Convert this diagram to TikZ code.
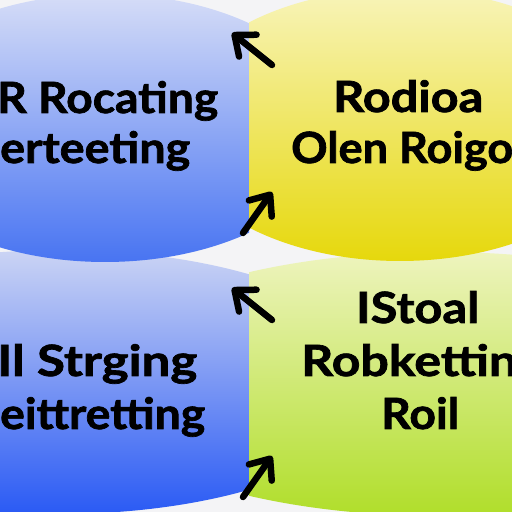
\documentclass[tikz,border=0pt]{standalone}
\usepackage{fontspec}
\setmainfont{Lato}[BoldFeatures={FakeBold=1.6}]
\usepackage{graphicx}
\usetikzlibrary{arrows.meta}
\definecolor{tlTop}{HTML}{D6DDF7}
\definecolor{tlBot}{HTML}{4874F2}
\definecolor{trTop}{HTML}{F8F4BA}
\definecolor{trBot}{HTML}{E6D80C}
\definecolor{blTop}{HTML}{CBD4F4}
\definecolor{blBot}{HTML}{2A5AF4}
\definecolor{brTop}{HTML}{EEF4BE}
\definecolor{brBot}{HTML}{B0DE2A}
\definecolor{bgc}{HTML}{F4F4F6}
\tikzset{
  lbl/.style={anchor=base west, inner sep=0pt, font=\fontsize{43}{43}\selectfont\bfseries},
  arr/.style={line width=6.5pt, line cap=round, -{Straight Barb[length=17pt,width=28pt,round]}},
}
\newcommand{\fw}[2]{\resizebox{#1pt}{\height}{#2}}
\begin{document}
\begin{tikzpicture}[x=1pt,y=1pt]
\useasboundingbox (0,0) rectangle (512,512);
\clip (0,0) rectangle (512,512);
\fill[bgc] (0,0) rectangle (512,512);
% bottom blobs
\begin{scope}
  \clip (0,0) rectangle (249,512);
  \shade[top color=blTop, bottom color=blBot] (60,130) ellipse (327 and 132);
\end{scope}
\begin{scope}
  \clip (249,0) rectangle (512,512);
  \shade[top color=brTop, bottom color=brBot] (440,128) ellipse (359 and 132);
\end{scope}
% top blobs
\begin{scope}
  \clip (0,0) rectangle (249,512);
  \shade[top color=tlTop, bottom color=tlBot] (105,384) ellipse (231 and 134);
\end{scope}
\begin{scope}
  \clip (249,0) rectangle (512,512);
  \shade[top color=trTop, bottom color=trBot] (400,387) ellipse (230 and 136);
\end{scope}
% texts
\node[lbl] (tl1) at (-3,399) {\fw{221}{R Rocating}};
\node[lbl] (tl2) at (0,349) {\fw{190}{erteeting}};
\node[lbl] (tr1) at (333,400) {\fw{150}{Rodioa}};
\node[lbl] (tr2) at (291,349) {\fw{222}{Olen Roigo}};
\node[lbl] (bl1) at (-3,136) {\fw{200}{Il Strging}};
\node[lbl] (bl2) at (0,83) {\fw{205}{eittretting}};
\node[lbl] (br1) at (356,189) {\fw{123}{IStoal}};
\node[lbl] (br2) at (301,136) {\fw{216}{Robkettin}};
\node[lbl] (br3) at (381,83) {\fw{78}{Roil}};
% arrows
\coordinate (a1s) at (272,447); \coordinate (a1e) at (232,479);
\coordinate (a2s) at (243,279); \coordinate (a2e) at (272,320);
\coordinate (a3s) at (272,192); \coordinate (a3e) at (232,224);
\coordinate (a4s) at (243,15);  \coordinate (a4e) at (272,56);
\draw[arr] (a1s) -- (a1e);
\draw[arr] (a2s) -- (a2e);
\draw[arr] (a3s) -- (a3e);
\draw[arr] (a4s) -- (a4e);
\end{tikzpicture}
\end{document}
